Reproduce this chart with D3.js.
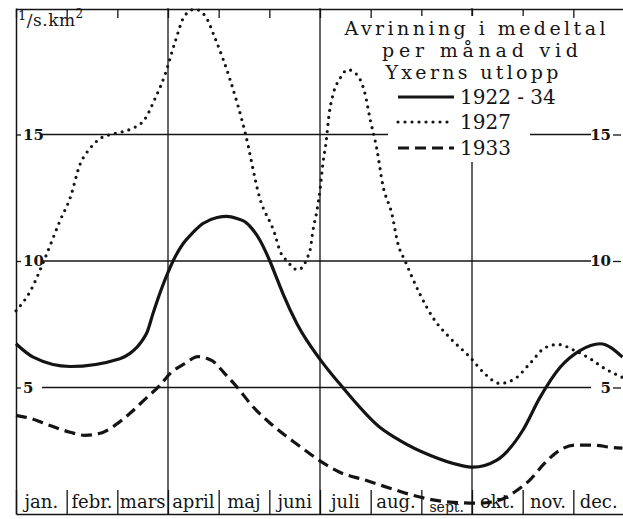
<!DOCTYPE html>
<html>
<head>
<meta charset="utf-8">
<script src="https://cdn.jsdelivr.net/npm/d3@7"></script>
<style>
  body { margin: 0; background: #fff; }
  svg { display: block; font-family: 'DejaVu Serif', serif; }
</style>
</head>
<body>
<div id="chart"></div>
<script>
const months = ['jan.', 'febr.', 'mars', 'april', 'maj', 'juni', 'juli', 'aug.', 'sept.', 'okt.', 'nov.', 'dec.']
const yTicks = [5, 10, 15]
const quarterLines = [3, 6, 9]
const titleLines = ['Avrinning i medeltal', 'per månad vid', 'Yxerns utlopp']
const seriesNames = ['1922 - 34', '1927', '1933']

// position in the year in months (0 = start of jan, 12 = end of dec), runoff in l/s.km2
const t1922 = [0, 0.34, 1.07, 2.05, 2.25, 2.40, 2.50, 2.59, 2.70, 2.80, 2.90, 3.0, 3.10, 3.30, 3.49, 3.69, 3.97, 4.16, 4.36, 4.52, 4.67, 4.82, 4.92, 5.01, 5.14, 5.27, 5.55, 6.02, 6.45, 7.18, 7.58, 8.17, 8.76, 9.02, 9.49, 10.0, 10.34, 10.74, 11.13, 11.53, 11.97]
const v1922 = [6.73, 6.2, 5.83, 6.14, 6.35, 6.62, 6.88, 7.2, 7.9, 8.5, 9.05, 9.55, 10.0, 10.69, 11.12, 11.48, 11.72, 11.76, 11.68, 11.55, 11.25, 10.8, 10.4, 10.0, 9.35, 8.7, 7.5, 6.06, 5.0, 3.43, 2.9, 2.32, 1.93, 1.85, 2.13, 3.3, 4.6, 5.8, 6.46, 6.73, 6.2]

const t1927 = [0, 0.28, 0.57, 0.87, 1.07, 1.26, 1.46, 1.66, 1.95, 2.25, 2.54, 2.74, 2.94, 3.14, 3.33, 3.53, 3.73, 3.93, 4.22, 4.52, 4.81, 5.11, 5.21, 5.35, 5.56, 5.80, 5.86, 5.94, 6.0, 6.06, 6.12, 6.18, 6.26, 6.39, 6.55, 6.73, 6.89, 6.99, 7.12, 7.24, 7.42, 7.54, 7.68, 7.97, 8.23, 8.56, 8.96, 9.25, 9.55, 9.85, 10.14, 10.44, 10.70, 11.03, 11.33, 11.62, 11.97]
const v1927 = [8.03, 8.8, 10.1, 11.6, 12.5, 13.8, 14.45, 14.84, 15.04, 15.2, 15.6, 16.4, 17.36, 18.66, 19.7, 19.95, 19.7, 18.8, 17.2, 15.1, 12.5, 11.06, 10.4, 10.0, 9.65, 10.4, 11.2, 12.0, 12.8, 13.9, 14.7, 15.8, 16.6, 17.2, 17.56, 17.36, 16.6, 15.6, 14.45, 13.0, 11.85, 10.67, 10.0, 8.7, 7.76, 6.97, 6.2, 5.55, 5.16, 5.35, 5.94, 6.57, 6.7, 6.46, 6.14, 5.75, 5.4]

const t1933 = [0, 0.28, 0.67, 1.07, 1.36, 1.66, 1.95, 2.25, 2.58, 2.84, 3.04, 3.33, 3.59, 3.87, 4.12, 4.42, 4.62, 5.11, 5.60, 6.0, 6.39, 6.89, 7.38, 7.97, 8.56, 9.15, 9.55, 9.84, 10.14, 10.43, 10.73, 11.03, 11.42, 11.72, 11.97]
const v1933 = [3.9, 3.78, 3.5, 3.23, 3.11, 3.19, 3.5, 3.98, 4.6, 5.08, 5.55, 5.94, 6.22, 6.06, 5.55, 4.88, 4.37, 3.43, 2.68, 2.1, 1.65, 1.34, 1.02, 0.67, 0.47, 0.43, 0.55, 0.87, 1.34, 2.0, 2.52, 2.72, 2.72, 2.64, 2.6]

const width = 623
const height = 519
const ink = '#141414'

const svg = d3.select('#chart').append('svg')
  .attr('width', width)
  .attr('height', height)

const x = d3.scaleLinear().domain([0, 12]).range([16, 624])
const y = d3.scaleLinear().domain([0, 20]).range([514, 8])

// horizontal grid lines, broken at both ends for the labels
svg.append('g')
  .selectAll('line')
  .data(yTicks)
  .enter().append('line')
  .attr('x1', 42)
  .attr('x2', 591)
  .attr('y1', d => y(d))
  .attr('y2', d => y(d))
  .attr('stroke', ink)
  .attr('stroke-width', 1.3)

// quarter lines, full height
svg.append('g')
  .selectAll('line')
  .data(quarterLines)
  .enter().append('line')
  .attr('x1', d => x(d))
  .attr('x2', d => x(d))
  .attr('y1', y(20))
  .attr('y2', y(0))
  .attr('stroke', ink)
  .attr('stroke-width', 1.3)

// left axis: border + short inner ticks
const leftAxis = svg.append('g')
  .attr('transform', `translate(${x(0)},0)`)
  .call(d3.axisRight(y).tickValues(yTicks).tickSize(5).tickSizeOuter(0).tickPadding(2))
leftAxis.select('.domain').attr('stroke', ink).attr('stroke-width', 1.5)
leftAxis.selectAll('.tick line').attr('stroke', ink).attr('stroke-width', 1.3)
leftAxis.selectAll('.tick text')
  .attr('font-family', 'DejaVu Serif')
  .attr('font-size', 15)
  .attr('font-weight', 'bold')
  .attr('fill', ink)

// right labels
const rightAxis = svg.append('g')
  .attr('transform', 'translate(621,0)')
  .call(d3.axisLeft(y).tickValues(yTicks).tickSize(8).tickSizeOuter(0).tickPadding(2))
rightAxis.select('.domain').remove()
rightAxis.selectAll('.tick line').attr('stroke', ink).attr('stroke-width', 1.3)
rightAxis.selectAll('.tick text')
  .attr('font-family', 'DejaVu Serif')
  .attr('font-size', 15)
  .attr('font-weight', 'bold')
  .attr('fill', ink)

// top border with month ticks
const topAxis = svg.append('g')
  .attr('transform', `translate(0,${y(20) + 1})`)
  .call(d3.axisTop(x).tickValues(d3.range(13)).tickSize(-9).tickSizeOuter(0).tickFormat(''))
topAxis.select('.domain').attr('stroke', ink).attr('stroke-width', 1.5)
topAxis.selectAll('.tick line').attr('stroke', ink).attr('stroke-width', 1.3)

// bottom border with month separators
const bottomAxis = svg.append('g')
  .attr('transform', `translate(0,${y(0)})`)
  .call(d3.axisBottom(x).tickValues(d3.range(13)).tickSize(-24).tickSizeOuter(0).tickFormat(''))
bottomAxis.select('.domain').attr('stroke', ink).attr('stroke-width', 1.5)
bottomAxis.selectAll('.tick line').attr('stroke', ink).attr('stroke-width', 1.3)

svg.append('g')
  .selectAll('text')
  .data(months)
  .enter().append('text')
  .attr('x', (d, i) => x(i + 0.5))
  .attr('y', d => d === 'sept.' ? y(0) - 2 : y(0) - 6)
  .attr('text-anchor', 'middle')
  .attr('font-size', d => d === 'sept.' ? 14 : 18)
  .attr('fill', ink)
  .text(d => d)

// unit label
const unit = svg.append('text')
  .attr('x', 18)
  .attr('y', 26)
  .attr('font-size', 17)
  .attr('letter-spacing', 0.5)
  .attr('fill', ink)
unit.append('tspan').attr('dy', -6).attr('font-size', 13).text('1')
unit.append('tspan').attr('dy', 6).text('/s.km')
unit.append('tspan').attr('dy', -8).attr('font-size', 12).text('2')

// legend box knocks out the grid behind it
svg.append('rect')
  .attr('x', 388)
  .attr('y', 16)
  .attr('width', 142)
  .attr('height', 146)
  .attr('fill', '#fff')

const legend = svg.append('g')
const titleX = [475, 480, 472]
const titleW = [261, 196, 173]
legend.selectAll('.title')
  .data(titleLines)
  .enter().append('text')
  .attr('class', 'title')
  .attr('x', (d, i) => titleX[i])
  .attr('y', (d, i) => 35 + i * 22.2)
  .attr('text-anchor', 'middle')
  .attr('font-size', 19)
  .attr('fill', ink)
  .attr('textLength', (d, i) => titleW[i])
  .attr('lengthAdjust', 'spacing')
  .text(d => d)

const styles = [
  { dash: null, cap: 'butt' },
  { dash: '0 7', cap: 'round' },
  { dash: '11 6', cap: 'butt' }
]

seriesNames.forEach((name, i) => {
  const ly = [97, 122, 148][i]
  legend.append('line')
    .attr('x1', 398)
    .attr('x2', 454)
    .attr('y1', ly)
    .attr('y2', ly)
    .attr('stroke', ink)
    .attr('stroke-width', 3.2)
    .attr('stroke-linecap', styles[i].cap)
    .attr('stroke-dasharray', styles[i].dash)
  legend.append('text')
    .attr('x', 460)
    .attr('y', ly + 7)
    .attr('font-size', 20)
    .attr('fill', ink)
    .text(name)
})

// the three curves
const line = d3.line()
  .x(d => x(d[0]))
  .y(d => y(d[1]))
  .curve(d3.curveMonotoneX)

const series = [d3.zip(t1922, v1922), d3.zip(t1927, v1927), d3.zip(t1933, v1933)]

svg.append('g')
  .selectAll('path')
  .data(series)
  .enter().append('path')
  .attr('d', line)
  .attr('fill', 'none')
  .attr('stroke', ink)
  .attr('stroke-width', 3.2)
  .attr('stroke-linecap', (d, i) => styles[i].cap)
  .attr('stroke-linejoin', 'round')
  .attr('stroke-dasharray', (d, i) => styles[i].dash)
</script>
</body>
</html>
